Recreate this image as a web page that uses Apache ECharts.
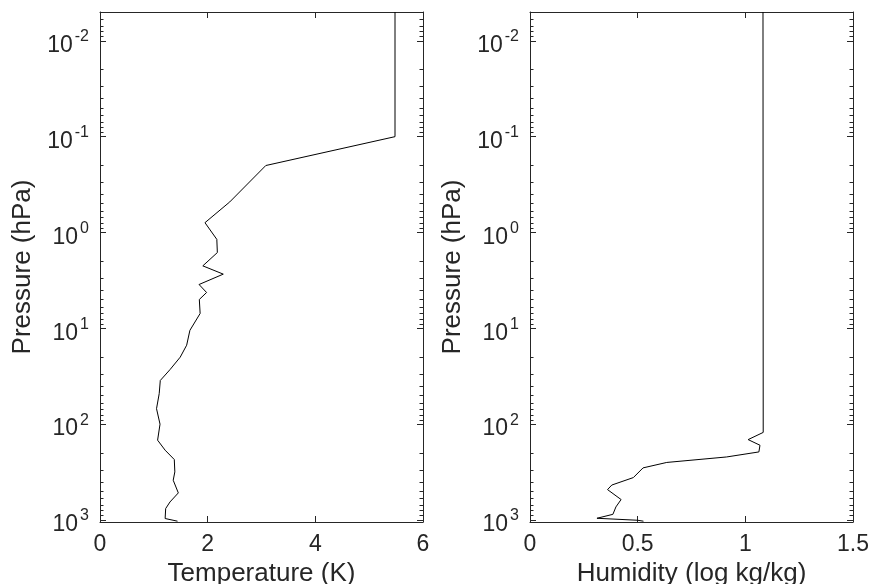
<!DOCTYPE html>
<html>
<head>
<meta charset="utf-8">
<script src="https://cdn.jsdelivr.net/npm/echarts@6/dist/echarts.min.js"></script>
<style>
html,body{margin:0;padding:0;background:#fff;}
#chart{width:869px;height:584px;}
</style>
</head>
<body>
<div id="chart"></div>
<script>
// ---- data ----
const pressureMin = 0.005;
const pressureMax = 1050;
const pressureDecades = [-2, -1, 0, 1, 2, 3];

const tempPressure = [0.005, 0.1, 0.2, 0.48, 0.79, 1.18, 1.62, 2.23, 2.72, 3.49, 4.23, 5.0, 7.0, 10.5, 15, 20, 27, 35, 48, 69, 100, 147, 187, 234, 315, 385, 522, 649, 760, 966, 1030];
const tempValues   = [5.48, 5.48, 3.08, 2.41, 1.95, 2.17, 2.18, 1.91, 2.29, 1.84, 1.98, 1.845, 1.86, 1.67, 1.61, 1.49, 1.30, 1.12, 1.10, 1.05, 1.115, 1.07, 1.21, 1.38, 1.39, 1.36, 1.455, 1.30, 1.22, 1.21, 1.44];

const humPressure = [0.005, 122, 145, 166, 195, 220, 251, 286, 361, 432, 482, 612, 731, 873, 960, 1007, 1030];
const humValues   = [1.082, 1.083, 1.013, 1.068, 1.063, 0.913, 0.635, 0.525, 0.48, 0.38, 0.36, 0.423, 0.399, 0.385, 0.311, 0.50, 0.527];

const tempTicks = [0, 2, 4, 6];
const humTicks = [0, 0.5, 1, 1.5];

const tempName = 'Temperature (K)';
const humName = 'Humidity (log kg/kg)';
const pressureName = 'Pressure (hPa)';

// ---- build ----
const FONT = '"Liberation Sans", Arial, Helvetica, sans-serif';
const INK = '#262626';
const lmin = Math.log10(pressureMin), lmax = Math.log10(pressureMax);
const minorVals = [];
for (let d = -3; d <= 3; d++) for (let k = 2; k <= 9; k++) {
  const v = Math.log10(k) + d;
  if (v >= lmin && v <= lmax) minorVals.push(v);
}

function pairs(xs, ps) { return xs.map((x, i) => [x, ps[i]]); }

const grids = [
  {left: 100, right: 446, top: 12, bottom: 62, containLabel: false, outerBoundsMode: 'none'},
  {left: 530, right: 16, top: 12, bottom: 62, containLabel: false, outerBoundsMode: 'none'}
];

const xAxes = [], yAxes = [], series = [];
const panels = [
  {ticks: tempTicks, name: tempName, data: pairs(tempValues, tempPressure)},
  {ticks: humTicks, name: humName, data: pairs(humValues, humPressure)}
];

panels.forEach((p, g) => {
  const xmin = p.ticks[0], xmax = p.ticks[p.ticks.length - 1];
  const xi = p.ticks[1] - p.ticks[0];
  const xBase = {
    type: 'value', gridIndex: g, min: xmin, max: xmax, interval: xi,
    axisLine: {show: true, onZero: false, lineStyle: {color: INK, width: 1}},
    axisTick: {show: true, inside: true, length: 6, lineStyle: {color: INK}},
    splitLine: {show: false}
  };
  xAxes.push(Object.assign({}, xBase, {
    position: 'bottom',
    name: p.name, nameLocation: 'middle', nameGap: 37,
    nameTextStyle: {fontFamily: FONT, fontSize: 26, color: INK},
    axisLabel: {show: true, margin: 11, fontFamily: FONT, fontSize: 23, color: INK}
  }));
  xAxes.push(Object.assign({}, xBase, {position: 'top', axisLabel: {show: false}}));

  // main log axis (data)
  const mainY = yAxes.length;
  yAxes.push({
    type: 'log', logBase: 10, gridIndex: g, inverse: true, position: 'left',
    min: pressureMin, max: pressureMax,
    axisLine: {show: true, onZero: false, lineStyle: {color: INK, width: 1}},
    axisTick: {show: false}, splitLine: {show: false}, minorTick: {show: false},
    name: pressureName, nameLocation: 'middle', nameGap: 64, nameRotate: 90,
    nameTextStyle: {fontFamily: FONT, fontSize: 26, color: INK},
    axisLabel: {
      show: true, margin: 11, fontFamily: FONT, color: INK,
      showMinLabel: true, showMaxLabel: true,
      padding: [10, 0, 0, 0],
      formatter: function (v) {
        const l = Math.log10(v), e = Math.round(l);
        if (Math.abs(l - e) > 1e-6) return '';
        return '{b|10}{s|' + e + '}';
      },
      rich: {
        b: {fontFamily: FONT, fontSize: 23, color: INK, lineHeight: 23},
        s: {fontFamily: FONT, fontSize: 16, color: INK, lineHeight: 16, padding: [0, 0, 18, 2]}
      }
    }
  });
  // decoration tick axes in log10 space
  const deco = (pos, vals, len, line) => ({
    type: 'value', gridIndex: g, inverse: true, position: pos, min: lmin, max: lmax,
    axisLine: {show: line, onZero: false, lineStyle: {color: INK, width: 1}},
    axisTick: {show: true, inside: true, length: len, customValues: vals, lineStyle: {color: INK}},
    axisLabel: {show: false}, splitLine: {show: false}
  });
  yAxes.push(deco('left', pressureDecades, 6, false));
  yAxes.push(deco('left', minorVals, 3.5, false));
  yAxes.push(deco('right', pressureDecades, 6, true));
  yAxes.push(deco('right', minorVals, 3.5, false));

  series.push({
    type: 'line', xAxisIndex: g * 2, yAxisIndex: mainY, data: p.data,
    symbol: 'none', showSymbol: false, animation: false,
    lineStyle: {color: '#000', width: 1}
  });
});

const chart = echarts.init(document.getElementById('chart'), null, {renderer: 'canvas'});
chart.setOption({
  animation: false,
  backgroundColor: '#fff',
  grid: grids,
  xAxis: xAxes,
  yAxis: yAxes,
  series: series
});
</script>
</body>
</html>
